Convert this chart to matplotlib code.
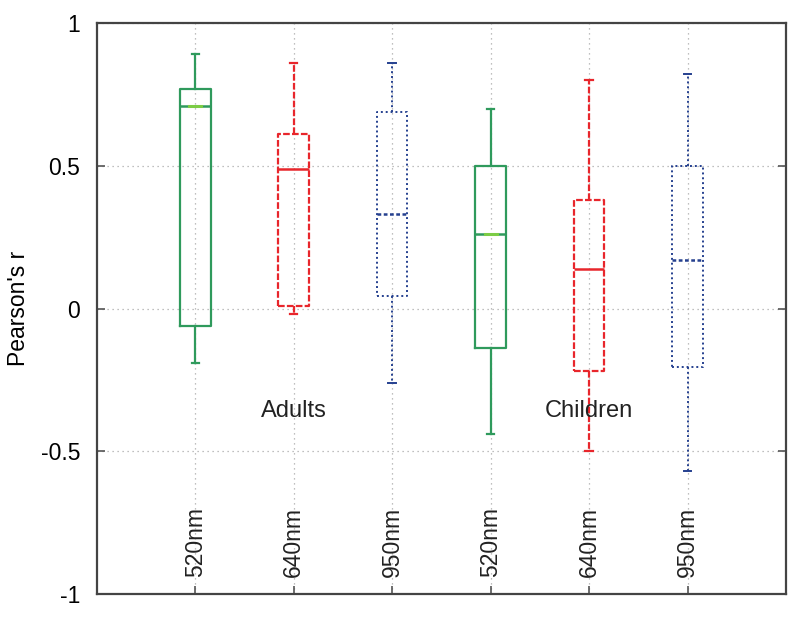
import matplotlib
matplotlib.use("Agg")
import matplotlib.pyplot as plt

plt.rcParams['font.family'] = ['Liberation Sans', 'DejaVu Sans']

# box plot summaries
labels = ['520nm', '640nm', '950nm', '520nm', '640nm', '950nm']
groups = ['Adults', 'Children']
whislo = [-0.19, -0.02, -0.26, -0.44, -0.50, -0.57]
q1 = [-0.06, 0.01, 0.045, -0.14, -0.22, -0.205]
med = [0.71, 0.49, 0.33, 0.26, 0.14, 0.17]
q3 = [0.77, 0.61, 0.69, 0.50, 0.38, 0.50]
whishi = [0.89, 0.86, 0.86, 0.70, 0.80, 0.82]

colors = ['#2f9a5c', '#e8262c', '#25408f']
styles = ['-', (0, (3, 1)), (0, (1, 1.5))]
med_styles = ['-', '-', (0, (1.5, 1))]

stats = []
for i in range(len(labels)):
    stats.append({'whislo': whislo[i], 'q1': q1[i], 'med': med[i],
                  'q3': q3[i], 'whishi': whishi[i], 'fliers': []})

fig = plt.figure(figsize=(8, 6.17), dpi=100)
ax = fig.add_axes([0.121, 0.0373, 0.8615, 0.9254])

for k in range(3):
    idx = [k, k + 3]
    c = colors[k]
    ls = styles[k]
    lw = 1.6 if k < 2 else 1.4
    ax.bxp([stats[i] for i in idx], positions=[i + 1 for i in idx],
           widths=0.31, capwidths=0.075, manage_ticks=False,
           boxprops=dict(color=c, linestyle=ls, linewidth=lw),
           whiskerprops=dict(color=c, linestyle=ls, linewidth=lw),
           capprops=dict(color=c, linestyle='-', linewidth=lw),
           medianprops=dict(color=c, linestyle=med_styles[k], linewidth=1.8),
           zorder=3)

# lighter centre on the green medians
for i in [0, 3]:
    ax.plot([i + 1 - 0.06, i + 1 + 0.06], [med[i], med[i]],
            color='#7ccc45', linewidth=2.2, zorder=4)

ax.set_xlim(0, 7)
ax.set_ylim(-1, 1)
ax.set_yticks([-1, -0.5, 0, 0.5, 1])
ax.set_yticklabels(['-1', '-0.5', '0', '0.5', '1'], fontsize=16.5)
ax.set_xticks(range(1, 7))
ax.set_xticklabels([])
ax.tick_params(direction='in', length=6, width=1.2, color='#555555',
               right=True, pad=12)
ax.grid(True, color='#aaaaaa', linestyle=(0, (1, 3)), linewidth=0.9)
ax.set_axisbelow(True)
for s in ax.spines.values():
    s.set_color('#444444')
    s.set_linewidth(1.6)

for i, lab in enumerate(labels):
    ax.text(i + 1, -0.94, lab, rotation=90, ha='center', va='bottom',
            fontsize=16.5, color='#222222')

ax.text(2, -0.36, groups[0], ha='center', va='center', fontsize=17,
        color='#222222')
ax.text(5, -0.36, groups[1], ha='center', va='center', fontsize=17,
        color='#222222')

ax.set_ylabel("Pearson's r", fontsize=16.5, va='center')
ax.yaxis.set_label_coords(-0.114, 0.5)

fig.savefig('out.png', dpi=100)
